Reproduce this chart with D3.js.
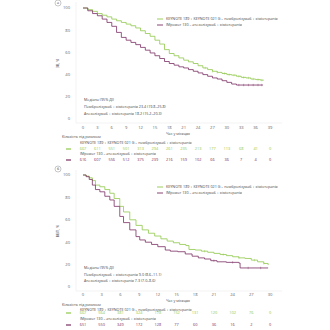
<!DOCTYPE html>
<html>
<head>
<meta charset="utf-8">
<script src="https://cdn.jsdelivr.net/npm/d3@7"></script>
<style>
  body { margin: 0; background: #fff; }
  svg { font-family: "Open Sans", "Noto Sans", sans-serif; }
  .tick-label { fill: #666; font-size: 4.1px; }
  .small { fill: #444; font-size: 3.7px; }
</style>
</head>
<body>
<svg id="chart" width="330" height="330"></svg>
<script>
const green = "#8fc84a", purple = "#7b2f63";

// OS panel (а)
const osTicks = [0, 3, 6, 9, 12, 15, 18, 21, 24, 27, 30, 33, 36, 39];
const osPembroT = [0, 1, 2, 3, 4, 5, 6, 7, 8, 9, 10, 11, 12, 13, 14, 15, 16, 17, 18, 19, 20, 21, 22, 23, 24, 25, 26, 27, 28, 29, 30, 31, 32, 33, 34, 35, 36, 37, 37.7];
const osPembroV = [100, 98.5, 97, 95, 93.5, 92, 90, 88.5, 87, 85.5, 84, 82, 79.5, 77, 74.5, 71, 67.5, 62.5, 59, 57, 55, 53, 51.5, 50, 48, 46, 44.5, 43, 42, 41, 40, 39.5, 38.5, 37.5, 37, 36, 35.5, 35, 35];
const osAtezoT = [0, 1, 2, 3, 4, 5, 6, 7, 8, 9, 10, 11, 12, 13, 14, 15, 16, 17, 18, 19, 20, 21, 22, 23, 24, 25, 26, 27, 28, 29, 30, 31, 32, 37.5];
const osAtezoV = [100, 97.5, 95, 93, 90, 87, 83.5, 78, 73.5, 71, 69, 67, 64.5, 62, 59.5, 57, 54.5, 51.8, 50, 48.5, 47, 46, 44.5, 43, 41.5, 40, 38.5, 37, 36, 34.5, 33, 31.5, 30.6, 30.6];
const osPembroCens = [25.5, 27, 28, 29.5, 30.5, 31.5, 32.5, 33.5, 34.5, 35.5, 36.5, 37.3];
const osAtezoCens = [32.5, 33.5, 34.5, 35.5, 36.5, 37.3];
const osRiskPembro = [667, 611, 551, 501, 313, 294, 261, 235, 213, 177, 113, 68, 41, 0];
const osRiskAtezo = [616, 607, 556, 512, 375, 239, 216, 159, 102, 66, 36, 7, 4, 0];

// PFS panel (б)
const pfsTicks = [0, 3, 6, 9, 12, 15, 18, 21, 24, 27, 30];
const pfsPembroT = [0, 0.5, 1, 1.5, 2, 2.7, 3.5, 4.3, 5, 5.9, 6.5, 7.5, 8.5, 9.5, 10.5, 11.5, 12.5, 13.5, 14.5, 15.5, 16.5, 17, 18, 19, 20, 21, 22, 23, 24, 25, 26, 27, 28, 29, 29.7];
const pfsPembroV = [100, 99, 97.5, 95, 91, 89.5, 87, 83.7, 79, 72, 67, 60, 55, 51, 48, 45.5, 43, 41, 39.5, 38, 37, 33.5, 33, 32, 31, 30, 29, 28, 27, 26, 25.5, 24, 22.5, 21, 19.6];
const pfsAtezoT = [0, 0.5, 1, 1.5, 2, 2.7, 3.5, 4.3, 5, 5.9, 6.5, 7.5, 8.5, 9.1, 10, 11, 12, 13.2, 14, 15.2, 16.4, 17.5, 18.5, 19.5, 20.5, 21.5, 23, 25, 25.2, 29.7];
const pfsAtezoV = [100, 98.5, 96, 91, 87, 85, 81, 77.7, 72, 63, 57.5, 51, 45, 42, 40, 38, 36, 33, 32, 31.5, 29.5, 27.5, 26, 25, 23.5, 22.5, 22, 21.4, 17, 17];
const pfsPembroCens = [19.5, 22.5, 25, 27.5, 29];
const pfsAtezoCens = [21, 24, 26.5, 28.5];
const pfsRiskPembro = [667, 564, 381, 324, 178, 152, 131, 120, 102, 76, 0];
const pfsRiskAtezo = [651, 550, 349, 172, 128, 77, 60, 36, 16, 2, 0];

const pembroLabel = "KEYNOTE 189 + KEYNOTE 021 G – пембролізумаб + хіміотерапія";
const atezoLabel = "IMpower 130 – атезолізумаб + хіміотерапія";

const svg = d3.select("#chart");

function panel(o) {
  const x = d3.scaleLinear().domain([0, o.xMax]).range([83, 270]);
  const y = d3.scaleLinear().domain([0, 100]).range([o.y0, o.y100]);
  const g = svg.append("g");

  // frame
  g.append("path")
    .attr("d", `M76,${o.frameTop}V${o.frameBottom}H282`)
    .attr("fill", "none").attr("stroke", "#ebebeb").attr("stroke-width", 0.6);

  // panel letter
  g.append("circle").attr("cx", 58).attr("cy", o.letterY).attr("r", 3)
    .attr("fill", "none").attr("stroke", "#777").attr("stroke-width", 0.4);
  g.append("text").attr("x", 58).attr("y", o.letterY).attr("dy", "0.35em")
    .attr("text-anchor", "middle").attr("class", "small").text(o.letter);

  // y ticks
  g.selectAll(".yt").data([0, 20, 40, 60, 80, 100]).join("text")
    .attr("class", "tick-label").attr("x", 70).attr("y", d => y(d)).attr("dy", "0.35em")
    .attr("text-anchor", "end").text(d => d);
  g.append("text").attr("class", "small")
    .attr("transform", `translate(59,${(o.y0 + o.y100) / 2}) rotate(-90)`)
    .attr("text-anchor", "middle").text(o.yLabel);

  // x ticks
  g.selectAll(".xt").data(o.ticks).join("text")
    .attr("class", "tick-label").attr("x", d => x(d)).attr("y", o.xLabelY).attr("dy", "0.35em")
    .attr("text-anchor", "middle").text(d => d);
  g.append("text").attr("class", "small").attr("x", 178).attr("y", o.xLabelY + 5.5)
    .attr("dy", "0.35em").attr("text-anchor", "middle").text("Час у місяцях");

  // curves
  const line = d3.line().curve(d3.curveStepAfter).x(d => x(d[0])).y(d => y(d[1]));
  const series = [
    { t: o.pT, v: o.pV, cens: o.pCens, color: green },
    { t: o.aT, v: o.aV, cens: o.aCens, color: purple }
  ];
  series.forEach(s => {
    const pts = s.t.map((t, i) => [t, s.v[i]]);
    g.append("path").datum(pts).attr("d", line)
      .attr("fill", "none").attr("stroke", s.color).attr("stroke-width", 0.8);
    const valAt = t => s.v[d3.bisectRight(s.t, t) - 1];
    g.selectAll(null).data(s.cens).join("line")
      .attr("x1", d => x(d)).attr("x2", d => x(d))
      .attr("y1", d => y(valAt(d)) - 1.2).attr("y2", d => y(valAt(d)) + 1.2)
      .attr("stroke", s.color).attr("stroke-width", 0.4);
  });

  // legend
  [[pembroLabel, green], [atezoLabel, purple]].forEach(([label, color], i) => {
    const ly = o.legendY + i * 6;
    g.append("line").attr("x1", 157).attr("x2", 163).attr("y1", ly).attr("y2", ly)
      .attr("stroke", color).attr("stroke-width", 0.9);
    g.append("text").attr("class", "small").attr("x", 166).attr("y", ly).attr("dy", "0.35em").text(label);
  });

  // medians
  o.median.forEach((txt, i) => {
    g.append("text").attr("class", "small").attr("x", 84).attr("y", o.medianY + i * o.medianStep)
      .attr("dy", "0.35em").text(txt);
  });

  // number at risk
  const r = o.riskY;
  g.append("text").attr("class", "small").attr("x", 62).attr("y", r[0]).attr("dy", "0.35em")
    .text("Кількість під ризиком");
  g.append("text").attr("class", "small").attr("x", 80).attr("y", r[1]).attr("dy", "0.35em").text(pembroLabel);
  g.append("text").attr("class", "small").attr("x", 80).attr("y", r[3]).attr("dy", "0.35em").text(atezoLabel);
  [[o.pRisk, green, r[2]], [o.aRisk, purple, r[4]]].forEach(([vals, color, ry]) => {
    g.append("line").attr("x1", 66).attr("x2", 71).attr("y1", ry).attr("y2", ry)
      .attr("stroke", color).attr("stroke-width", 1.2);
    g.selectAll(null).data(vals).join("text")
      .attr("x", (d, i) => x(o.ticks[i])).attr("y", ry).attr("dy", "0.35em")
      .attr("text-anchor", "middle").attr("font-size", "3.9px").attr("fill", color)
      .text(d => d);
  });
}

panel({
  xMax: 39, ticks: osTicks, y0: 119, y100: 8, frameTop: 2, frameBottom: 123, xLabelY: 128,
  letter: "а", letterY: 3, yLabel: "ЗВ, %", legendY: 19,
  pT: osPembroT, pV: osPembroV, pCens: osPembroCens,
  aT: osAtezoT, aV: osAtezoV, aCens: osAtezoCens,
  median: ["Медіана (95% ДІ)", "Пембролізумаб + хіміотерапія 23.4 (19.8–25.8)", "Атезолізумаб + хіміотерапія 18.2 (15.2–20.3)"],
  medianY: 99.5, medianStep: 7,
  riskY: [137, 143, 149, 154, 160],
  pRisk: osRiskPembro, aRisk: osRiskAtezo
});

panel({
  xMax: 30, ticks: pfsTicks, y0: 287, y100: 175, frameTop: 170, frameBottom: 291, xLabelY: 295,
  letter: "б", letterY: 169, yLabel: "ВБП, %", legendY: 187,
  pT: pfsPembroT, pV: pfsPembroV, pCens: pfsPembroCens,
  aT: pfsAtezoT, aV: pfsAtezoV, aCens: pfsAtezoCens,
  median: ["Медіана (95% ДІ)", "Пембролізумаб + хіміотерапія 9.0 (8.6–11.1)", "Атезолізумаб + хіміотерапія 7.3 (7.0–8.6)"],
  medianY: 268, medianStep: 6.5,
  riskY: [305, 309.5, 313, 318.5, 325],
  pRisk: pfsRiskPembro, aRisk: pfsRiskAtezo
});
</script>
</body>
</html>
